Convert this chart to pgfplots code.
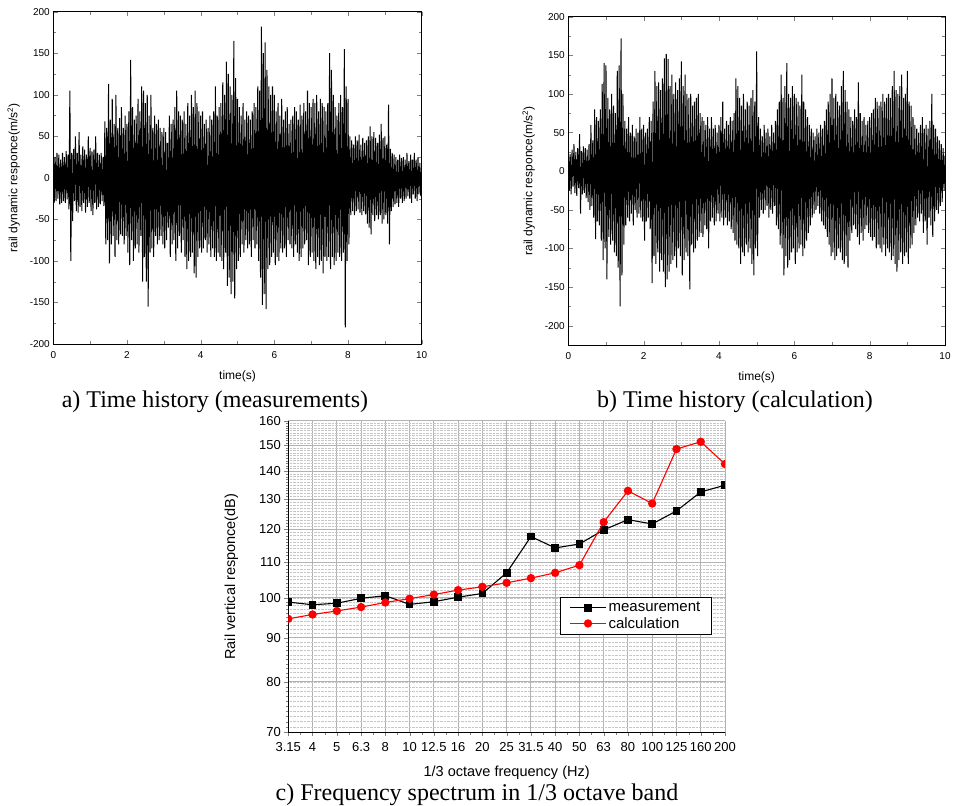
\documentclass[border=0pt]{standalone}
\usepackage{fontspec}
\setmainfont{Liberation Sans}
\newfontfamily\capfont{Liberation Serif}
\usepackage{pgfplots}
\usepackage{pgfplotstable}
\pgfplotsset{compat=1.18}

% measured rail acceleration, one value every 0.025 s (0..10 s)
\pgfplotstableread[row sep=\\, header=false]{
40\\-30\\25\\-28\\30\\-25\\28\\-32\\22\\-30\\30\\-28\\25\\-30\\32\\-26\\28\\-38\\105\\-100\\
30\\-52\\35\\-28\\50\\-40\\30\\-42\\55\\-35\\28\\-40\\38\\-30\\34\\-42\\28\\-35\\50\\-30\\
36\\-40\\32\\-45\\34\\-30\\50\\-38\\30\\-35\\28\\-32\\30\\-28\\25\\-34\\68\\-80\\60\\-75\\
113\\-103\\70\\-80\\95\\-70\\65\\-95\\100\\-75\\60\\-80\\72\\-68\\85\\-70\\60\\-80\\75\\-70\\
65\\-90\\80\\-105\\142\\-75\\85\\-100\\70\\-85\\75\\-80\\95\\-90\\80\\-70\\110\\-125\\105\\-95\\
90\\-125\\100\\-155\\75\\-90\\100\\-85\\60\\-95\\75\\-70\\65\\-80\\70\\-75\\60\\-70\\55\\-80\\
60\\-85\\55\\-75\\42\\-60\\75\\-95\\65\\-80\\70\\-75\\85\\-100\\105\\-85\\80\\-70\\75\\-90\\
70\\-75\\80\\-95\\65\\-110\\90\\-100\\75\\-95\\100\\-90\\85\\-115\\105\\-120\\90\\-95\\80\\-85\\
75\\-90\\80\\-85\\65\\-75\\70\\-90\\60\\-80\\75\\-95\\70\\-85\\80\\-95\\110\\-100\\75\\-90\\
85\\-95\\90\\-100\\115\\-110\\100\\-90\\140\\-130\\125\\-120\\110\\-140\\100\\-125\\165\\-145\\120\\-110\\
95\\-100\\85\\-95\\75\\-80\\90\\-90\\70\\-75\\80\\-85\\75\\-80\\70\\-95\\80\\-75\\90\\-85\\
85\\-80\\110\\-100\\105\\-120\\182\\-153\\150\\-140\\163\\-158\\130\\-110\\110\\-105\\100\\-95\\110\\-90\\
100\\-105\\80\\-95\\90\\-100\\75\\-85\\95\\-90\\70\\-85\\80\\-95\\85\\-75\\65\\-80\\70\\-85\\
75\\-95\\85\\-80\\80\\-90\\70\\-100\\88\\-95\\75\\-85\\90\\-80\\80\\-75\\105\\-105\\90\\-95\\
85\\-90\\95\\-100\\90\\-110\\100\\-95\\80\\-105\\95\\-100\\90\\-115\\85\\-95\\80\\-100\\90\\-95\\
150\\-110\\130\\-95\\100\\-105\\85\\-100\\75\\-90\\90\\-95\\100\\-100\\85\\-90\\155\\-180\\110\\-100\\
95\\-80\\50\\-45\\45\\-40\\40\\-45\\50\\-40\\45\\-38\\52\\-42\\40\\-45\\48\\-40\\42\\-44\\
45\\-55\\50\\-60\\62\\-68\\50\\-45\\55\\-52\\48\\-45\\42\\-50\\52\\-45\\65\\-55\\48\\-50\\
50\\-45\\40\\-55\\88\\-80\\35\\-40\\30\\-35\\28\\-32\\25\\-30\\22\\-35\\28\\-25\\24\\-30\\
25\\-28\\22\\-25\\30\\-22\\20\\-25\\28\\-30\\22\\-20\\30\\-25\\22\\-28\\25\\-20\\18\\-22\\
15\\
}\measdata

% calculated rail acceleration, one value every 0.025 s (0..10 s)
\pgfplotstableread[row sep=\\, header=false]{
30\\-25\\22\\-30\\28\\-20\\35\\-28\\25\\-32\\30\\-22\\48\\-55\\26\\-30\\32\\-28\\30\\-35\\
28\\-40\\35\\-50\\60\\-45\\40\\-60\\80\\-88\\70\\-65\\65\\-70\\80\\-90\\113\\-115\\140\\-100\\
137\\-140\\95\\-85\\80\\-95\\100\\-90\\85\\-105\\75\\-110\\130\\-125\\137\\-175\\172\\-135\\100\\-95\\
65\\-70\\55\\-60\\70\\-65\\50\\-55\\60\\-70\\45\\-50\\55\\-60\\50\\-55\\70\\-60\\55\\-65\\
60\\-90\\50\\-65\\55\\-60\\70\\-75\\65\\-145\\90\\-110\\130\\-120\\110\\-105\\115\\-130\\105\\-115\\
120\\-130\\146\\-150\\152\\-140\\145\\-130\\110\\-120\\125\\-115\\100\\-110\\115\\-125\\105\\-100\\120\\-110\\
142\\-135\\110\\-115\\125\\-105\\100\\-110\\95\\-153\\100\\-95\\85\\-105\\90\\-100\\95\\-90\\100\\-85\\
75\\-80\\70\\-85\\65\\-70\\60\\-75\\70\\-100\\55\\-65\\70\\-60\\55\\-70\\60\\-65\\50\\-55\\
60\\-65\\70\\-60\\90\\-70\\55\\-60\\65\\-70\\60\\-65\\70\\-75\\65\\-80\\75\\-90\\120\\-95\\
110\\-100\\95\\-120\\85\\-105\\100\\-110\\80\\-95\\90\\-105\\85\\-100\\95\\-120\\105\\-135\\90\\-100\\
155\\-110\\70\\-60\\55\\-50\\45\\-55\\60\\-50\\50\\-45\\55\\-60\\45\\-50\\60\\-55\\50\\-45\\
65\\-70\\80\\-75\\90\\-95\\125\\-100\\95\\-135\\110\\-110\\140\\-125\\100\\-115\\95\\-105\\110\\-100\\
100\\-120\\95\\-105\\90\\-100\\85\\-95\\125\\-110\\90\\-100\\80\\-90\\70\\-80\\60\\-70\\55\\-60\\
50\\-55\\45\\-50\\55\\-45\\50\\-55\\60\\-65\\55\\-70\\65\\-75\\80\\-85\\90\\-95\\100\\-110\\
120\\-105\\95\\-115\\100\\-110\\90\\-100\\85\\-105\\110\\-115\\130\\-120\\105\\-110\\90\\-125\\80\\-90\\
70\\-80\\65\\-70\\80\\-75\\70\\-85\\115\\-95\\75\\-80\\65\\-90\\70\\-75\\60\\-70\\65\\-80\\
70\\-85\\75\\-90\\80\\-85\\95\\-100\\90\\-95\\85\\-100\\90\\-105\\100\\-95\\90\\-110\\95\\-100\\
100\\-105\\95\\-115\\110\\-110\\130\\-120\\105\\-130\\100\\-115\\110\\-105\\125\\-120\\95\\-110\\100\\-105\\
130\\-120\\90\\-100\\85\\-95\\70\\-80\\60\\-70\\55\\-60\\50\\-65\\60\\-55\\70\\-80\\55\\-65\\
60\\-95\\55\\-60\\65\\-70\\100\\-85\\60\\-65\\55\\-50\\45\\-55\\40\\-45\\35\\-40\\30\\-25\\
20\\
}\calcdata

% 1/3 octave band levels (dB), bands 3.15 ... 200 Hz at x = 0 ... 18
\pgfplotstableread{
x meas calc
0  98.9  94.6
1  98.2  95.7
2  98.6  96.6
3  99.9  97.6
4  100.6 98.8
5  98.3  99.8
6  99.0  100.9
7  100.2 102.1
8  101.2 103.0
9  106.9 104.1
10 117.7 105.4
11 114.2 106.9
12 115.4 109.1
13 119.8 122.3
14 123.1 132.9
15 121.7 128.5
16 126.0 148.5
17 132.5 151.4
18 134.9 142.7
}\bandlevels

\pgfplotsset{
    timehist/.style={
        scale only axis,
        xmin=0, xmax=10,
        xtick={0,2,...,10},
        minor tick num=1,
        tick align=inside,
        scaled ticks=false,
        /pgf/number format/assume math mode=true,
        tick label style={font=\fontsize{10}{12}\selectfont},
        label style={font=\fontsize{12}{14}\selectfont},
        xlabel={time(s)},
        ylabel={rail dynamic responce(m/s\textsuperscript{2})},
        xticklabel shift=4pt,
        xlabel shift=5pt,
        ylabel shift=3pt,
        axis line style={line width=0.8pt},
    }
}

\begin{document}
\begin{tikzpicture}
\useasboundingbox (0,0) rectangle (954pt,806pt);

% a) measured time history
\begin{axis}[timehist,
    at={(53.3pt,462pt)}, anchor=south west,
    width=368.4pt, height=332.3pt,
    ymin=-200, ymax=200,
    ytick={-200,-150,...,200},
]
\addplot[black, line width=1.0pt] table[x expr=\coordindex*0.025, y index=0] {\measdata};
\end{axis}

% b) calculated time history
\begin{axis}[timehist,
    at={(568.3pt,461pt)}, anchor=south west,
    width=376.7pt, height=328.3pt,
    ymin=-225, ymax=200,
    ytick={-200,-150,...,200},
]
\addplot[black, line width=1.0pt] table[x expr=\coordindex*0.025, y index=0] {\calcdata};
\end{axis}

% c) 1/3 octave spectrum
\begin{axis}[
    at={(288.3pt,73.7pt)}, anchor=south west,
    scale only axis,
    width=436.7pt, height=311.3pt,
    xmin=0, xmax=18,
    ymode=log, ymin=70, ymax=160,
    xtick={0,...,18},
    xticklabels={3.15,4,5,6.3,8,10,12.5,16,20,25,31.5,40,50,63,80,100,125,160,200},
    minor x tick num=1,
    ytick={70,80,90,100,110,120,130,140,150,160},
    yticklabels={70,80,90,100,110,120,130,140,150,160},
    minor ytick={71,72,...,159},
    axis x line*=bottom, axis y line*=left,
    axis line style={line width=0.8pt},
    tick align=outside,
    major tick length=4pt, minor tick length=2.5pt,
    xmajorgrids, ymajorgrids, yminorgrids,
    major grid style={gray!60, line width=1pt},
    minor grid style={gray!45, densely dotted, line width=0.4pt},
    tick label style={font=\fontsize{13}{15}\selectfont},
    label style={font=\fontsize{14.5}{16}\selectfont},
    xlabel={1/3 octave frequency (Hz)},
    ylabel={Rail vertical responce(dB)},
    xticklabel shift=3pt,
    xlabel shift=7pt,
    ylabel shift=14pt,
    clip marker paths=true,
    legend image code/.code={
        \draw[mark repeat=2, mark phase=2, #1] plot coordinates {(0pt,0pt) (18pt,0pt) (36pt,0pt)};
    },
    legend style={at={(0.9695,0.4356)}, anchor=north east,
        draw=black, line width=0.8pt, font=\fontsize{15}{17}\selectfont,
        inner xsep=9pt, inner ysep=3pt, row sep=0pt},
    legend cell align=left,
]
\addplot[black, line width=1.1pt, mark=square*, mark size=3.3pt] table[x=x, y=meas] {\bandlevels};
\addlegendentry{measurement}
\addplot[red, line width=1.1pt, mark=*, mark size=3.6pt] table[x=x, y=calc] {\bandlevels};
\addlegendentry{calculation}
\end{axis}

\node[font=\capfont\fontsize{24}{28}\selectfont] at (215pt,404pt) {a) Time history (measurements)};
\node[font=\capfont\fontsize{24}{28}\selectfont] at (735pt,404pt) {b) Time history (calculation)};
\node[font=\capfont\fontsize{24}{28}\selectfont] at (477pt,11pt) {c) Frequency spectrum in 1/3 octave band};
\end{tikzpicture}
\end{document}
